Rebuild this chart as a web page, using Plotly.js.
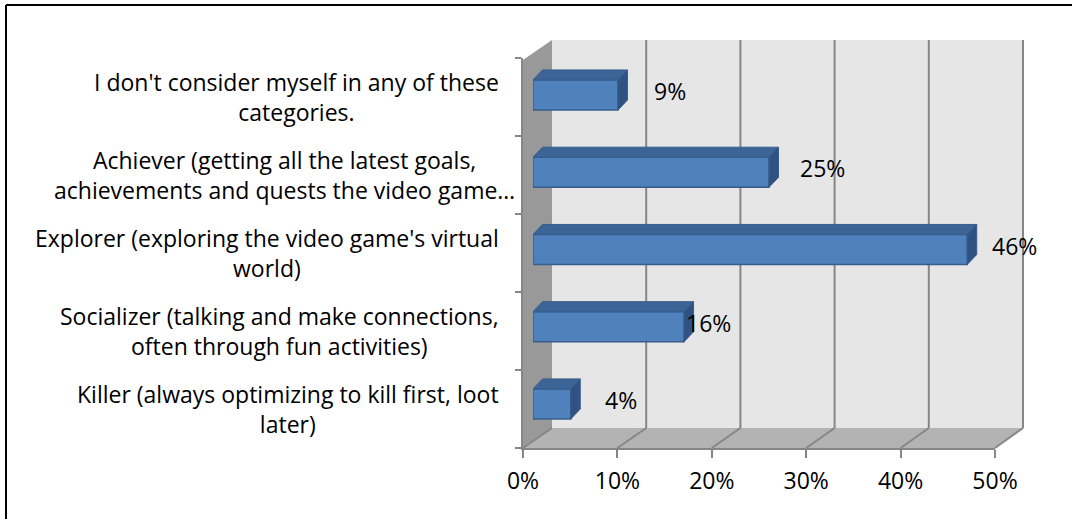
<!DOCTYPE html>
<html>
<head>
<meta charset="utf-8">
<script src="https://cdn.plot.ly/plotly-3.0.1.min.js"></script>
<style>html,body{margin:0;padding:0;background:#fff;}#chart{width:1072px;height:519px;}</style>
</head>
<body>
<div id="chart"></div>
<script>
// ---- data ----
const categories = [
  "I don't consider myself in any of these<br>categories.",
  "Achiever (getting all the latest goals,<br>achievements and quests the video game…",
  "Explorer (exploring the video game's virtual<br>world)",
  "Socializer (talking and make connections,<br>often through fun activities)",
  "Killer (always optimizing to kill first, loot<br>later)"
];
const values = [0.09, 0.25, 0.46, 0.16, 0.04];
const valueLabels = ["9%", "25%", "46%", "16%", "4%"];
const tickValues = [0, 0.1, 0.2, 0.3, 0.4, 0.5];

// ---- style / layout ----
const W = 1072, H = 519;
const FONT = "'Open Sans', 'Noto Sans', sans-serif";
const FS = 23;
const labelDx = [52, 53, 47, 24, 50];
const labelRight = [501, 517, 501, 501, 501];
const px = x => x / W;
const py = y => 1 - y / H;
// 3D box geometry (pixels)
const front = {l: 523, r: 995, t: 60, b: 448};
const back = {l: 552, r: 1023, t: 40, b: 428};
const xFront = v => front.l + v / 0.5 * (front.r - front.l);
const xBack = v => back.l + v / 0.5 * (back.r - back.l);
const barW = 0.39;
const depthX = 9.5 / 944;   // bar depth in data units (x)
const depthY = 10 / 77.25;  // bar depth in category units (y)
const GRID = '#868686';

const shapes = [];
// back wall
shapes.push({type: 'path', xref: 'paper', yref: 'paper', layer: 'below',
  path: `M${px(back.l)},${py(back.t)} L${px(back.r)},${py(back.t)} L${px(back.r)},${py(back.b)} L${px(back.l)},${py(back.b)} Z`,
  fillcolor: '#e6e6e6', line: {width: 0}});
// floor
shapes.push({type: 'path', xref: 'paper', yref: 'paper', layer: 'below',
  path: `M${px(front.l)},${py(front.b)} L${px(front.r)},${py(front.b)} L${px(back.r)},${py(back.b)} L${px(back.l)},${py(back.b)} Z`,
  fillcolor: '#b3b3b3', line: {width: 0}});
// left wall
shapes.push({type: 'path', xref: 'paper', yref: 'paper', layer: 'below',
  path: `M${px(front.l)},${py(front.b)} L${px(front.l)},${py(front.t)} L${px(back.l)},${py(back.t)} L${px(back.l)},${py(back.b)} Z`,
  fillcolor: '#999999', line: {width: 0}});
// gridlines on back wall + floor diagonals
tickValues.forEach(v => {
  if (v > 0) {
    shapes.push({type: 'line', xref: 'paper', yref: 'paper', layer: 'below',
      x0: px(xBack(v)), x1: px(xBack(v)), y0: py(back.t), y1: py(back.b),
      line: {color: GRID, width: 2}});
  }
  shapes.push({type: 'line', xref: 'paper', yref: 'paper', layer: 'below',
    x0: px(xFront(v)), x1: px(xBack(v)), y0: py(front.b), y1: py(back.b),
    line: {color: GRID, width: 2}});
});
// 3D faces of bars (computed from data)
values.forEach((v, i) => {
  const yT = i - barW / 2, yB = i + barW / 2;
  shapes.push({type: 'path', xref: 'x', yref: 'y', layer: 'above',
    path: `M0,${yT} L${v},${yT} L${v + depthX},${yT - depthY} L${depthX},${yT - depthY} Z`,
    fillcolor: '#3c6496', line: {color: '#385d8a', width: 1}});
  shapes.push({type: 'path', xref: 'x', yref: 'y', layer: 'above',
    path: `M${v},${yT} L${v + depthX},${yT - depthY} L${v + depthX},${yB - depthY} L${v},${yB} Z`,
    fillcolor: '#2f5283', line: {color: '#385d8a', width: 1}});
});
// outer border
shapes.push({type: 'line', xref: 'paper', yref: 'paper', x0: px(6), x1: 1, y0: py(5), y1: py(5), line: {color: '#000', width: 2}});
shapes.push({type: 'line', xref: 'paper', yref: 'paper', x0: px(6), x1: px(6), y0: py(5), y1: 0, line: {color: '#000', width: 2}});

const annotations = [];
categories.forEach((c, i) => {
  annotations.push({xref: 'paper', yref: 'y2', x: px(labelRight[i]), y: categories.length - i - 0.5,
    text: c, showarrow: false, xanchor: 'right', yanchor: 'middle', align: 'center',
    font: {family: FONT, size: FS, color: '#000'}});
});
values.forEach((v, i) => {
  annotations.push({xref: 'x', yref: 'y', x: v, y: categories[i], xshift: labelDx[i], yshift: 4,
    text: valueLabels[i], showarrow: false, xanchor: 'center', yanchor: 'middle',
    font: {family: FONT, size: FS, color: '#000'}});
});

const traces = [
  {type: 'bar', orientation: 'h', x: values, y: categories, width: barW,
   marker: {color: '#4f81bd', line: {color: '#385d8a', width: 1.5}},
   hoverinfo: 'skip', showlegend: false, xaxis: 'x', yaxis: 'y'},
  {type: 'scatter', mode: 'markers', x: [null], y: [null], xaxis: 'x2', yaxis: 'y2',
   hoverinfo: 'skip', showlegend: false}
];

const layout = {
  width: W, height: H,
  margin: {l: 0, r: 0, t: 0, b: 0},
  paper_bgcolor: '#ffffff', plot_bgcolor: 'rgba(0,0,0,0)',
  showlegend: false,
  font: {family: FONT, size: FS, color: '#000'},
  xaxis: {domain: [px(533), px(533 + 472)], range: [0, 0.5], visible: false, fixedrange: true},
  yaxis: {domain: [py(95 + 4 * 77.25 + 38.6), py(95 - 38.6)], type: 'category',
          range: [categories.length - 0.5, -0.5], visible: false, fixedrange: true},
  xaxis2: {domain: [px(front.l), px(front.r)], range: [0, 0.5], anchor: 'y2',
           tickvals: tickValues, tickformat: '.0%', ticks: 'outside', ticklen: 8, tickwidth: 2,
           tickcolor: GRID, showline: true, linecolor: GRID, linewidth: 2, showgrid: false,
           zeroline: false, ticklabelstandoff: 3, tickfont: {family: FONT, size: FS, color: '#000'}},
  yaxis2: {domain: [py(front.b), py(front.t - 2)], range: [0, 5], anchor: 'x2',
           tickvals: [0, 1, 2, 3, 4, 5], ticks: 'outside', ticklen: 6, tickwidth: 2, tickcolor: GRID,
           showticklabels: false, showline: true, linecolor: GRID, linewidth: 2,
           showgrid: false, zeroline: false},
  shapes: shapes,
  annotations: annotations
};

Plotly.newPlot('chart', traces, layout, {staticPlot: true, displayModeBar: false});
</script>
</body>
</html>
